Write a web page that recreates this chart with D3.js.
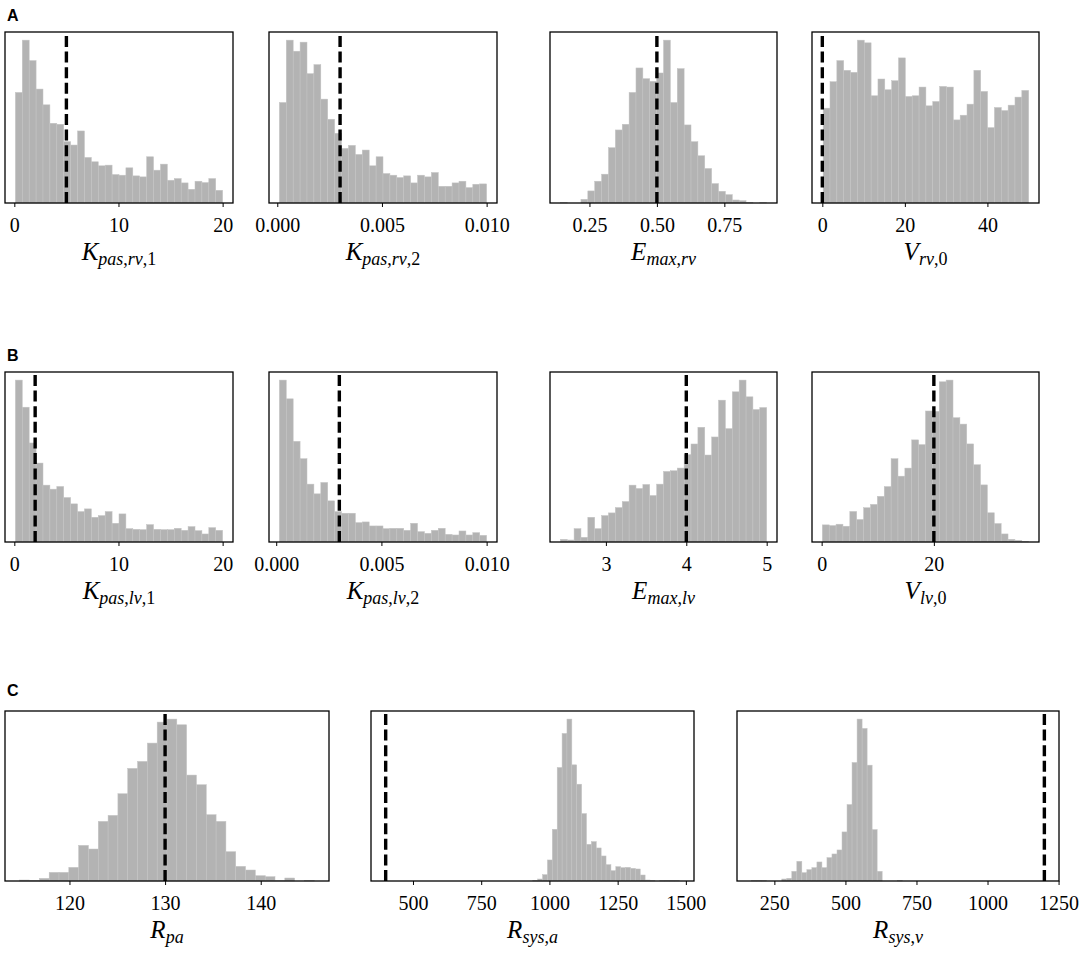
<!DOCTYPE html>
<html lang="en">
<head>
<meta charset="UTF-8">
<title>Parameter histograms</title>
<script src="https://cdnjs.cloudflare.com/ajax/libs/d3/7.8.5/d3.min.js"></script>
<style>
  body { margin: 0; background: #fff; }
  svg { display: block; }
  .tick text { font-family: "Liberation Serif", "DejaVu Serif", serif; font-size: 20px; fill: #000; }
  .tick line { stroke: #000; stroke-width: 1; }
  .panel-letter { font-family: "Liberation Sans", Arial, sans-serif; font-weight: bold; font-size: 16px; }
  .axis-label { font-family: "Liberation Serif", "DejaVu Serif", serif; font-size: 25px; }
</style>
</head>
<body>
<svg id="fig"></svg>
<script>
// panels in reading order: A1..A4, B1..B4, C1..C3
const symbols = ['K', 'K', 'E', 'V', 'K', 'K', 'E', 'V', 'R', 'R', 'R'];
const subscripts = ['pas,rv,1', 'pas,rv,2', 'max,rv', 'rv,0',
                    'pas,lv,1', 'pas,lv,2', 'max,lv', 'lv,0',
                    'pa', 'sys,a', 'sys,v'];
// first / last bin edge of each histogram (30 equal bins)
const binLo = [0.1, 0.0001, 0.142, 0.2, 0.1, 0.00015, 2.433, 0.12, 114.8, 939, 170];
const binHi = [20, 0.01, 0.907, 50, 20, 0.01, 5.0, 36.9, 145.6, 1476, 700];
// dashed reference value
const refValues = [5, 0.003, 0.5, 0, 2, 0.003, 4, 20, 130, 400, 1200];
const tickValues = [
  [0, 10, 20], [0, 0.005, 0.01], [0.25, 0.5, 0.75], [0, 20, 40],
  [0, 10, 20], [0, 0.005, 0.01], [3, 4, 5], [0, 20],
  [120, 130, 140], [500, 750, 1000, 1250, 1500], [250, 500, 750, 1000, 1250]
];
const tickFormats = ['d', '.3f', '.2f', 'd', 'd', '.3f', 'd', 'd', 'd', 'd', 'd'];

// bin counts
const countsA1 = [330, 486, 425, 340, 293, 238, 235, 183, 173, 215, 136, 123, 111, 113, 85,
                  83, 105, 81, 78, 138, 98, 116, 68, 73, 60, 41, 65, 61, 73, 38];
const countsA2 = [300, 486, 453, 480, 386, 413, 310, 250, 208, 163, 172, 145, 158, 111, 138,
                  88, 83, 76, 81, 60, 83, 78, 91, 50, 50, 60, 65, 46, 56, 57];
const countsA3 = [1, 0, 0, 11, 36, 65, 86, 165, 218, 235, 330, 403, 371, 363, 388,
                  486, 300, 401, 233, 183, 141, 103, 58, 35, 25, 9, 7, 2, 0, 1];
const countsA4 = [283, 362, 425, 396, 390, 486, 478, 320, 370, 338, 365, 433, 318, 320, 346,
                  290, 303, 348, 346, 248, 262, 295, 396, 333, 225, 285, 276, 292, 316, 336];
const countsB1 = [484, 403, 296, 236, 170, 158, 166, 133, 114, 91, 99, 74, 79, 91, 56,
                  84, 40, 38, 37, 52, 38, 37, 37, 41, 35, 46, 34, 24, 43, 35];
const countsB2 = [484, 428, 301, 249, 173, 144, 178, 123, 91, 86, 86, 58, 60, 48, 48,
                  40, 41, 41, 35, 56, 31, 26, 35, 41, 23, 21, 33, 21, 28, 20];
const countsB3 = [8, 6, 40, 14, 74, 40, 79, 87, 103, 121, 170, 160, 172, 139, 173,
                  211, 213, 221, 261, 293, 343, 260, 314, 424, 339, 449, 484, 434, 396, 402];
const countsB4 = [51, 49, 53, 47, 91, 67, 102, 112, 136, 165, 248, 196, 220, 304, 290,
                  390, 389, 477, 482, 370, 351, 292, 230, 170, 87, 55, 24, 8, 5, 2];
const countsC1 = [3, 2, 8, 26, 26, 41, 107, 96, 179, 197, 262, 338, 359, 414, 477,
                  486, 469, 318, 289, 199, 179, 88, 44, 33, 16, 13, 1, 9, 0, 1];
const countsC2 = [2, 6, 19, 63, 155, 340, 442, 485, 348, 290, 202, 110, 118, 99, 75,
                  49, 31, 43, 40, 41, 38, 36, 18, 3, 1, 0, 1, 2, 2, 2];
const countsC3 = [2, 2, 1, 0, 0, 0, 6, 8, 29, 59, 25, 34, 40, 57, 40,
                  70, 81, 93, 147, 229, 355, 485, 457, 347, 154, 29, 0, 0, 0, 1];

const allCounts = [countsA1, countsA2, countsA3, countsA4, countsB1, countsB2,
                   countsB3, countsB4, countsC1, countsC2, countsC3];

const width = 1084, height = 953;
const svg = d3.select('#fig').attr('width', width).attr('height', height);

// layout
const rows = [
  { letter: 'A', top: 32, bottom: 203, letterY: 21, panels: [0, 1, 2, 3] },
  { letter: 'B', top: 372, bottom: 542, letterY: 361, panels: [4, 5, 6, 7] },
  { letter: 'C', top: 711, bottom: 881, letterY: 696, panels: [8, 9, 10] }
];
const colsFour = [[5, 233], [269, 497], [550, 777], [812, 1039]];
const colsThree = [[5, 329], [371, 694], [737, 1059]];

rows.forEach(row => {
  svg.append('text')
    .attr('class', 'panel-letter')
    .attr('x', 7)
    .attr('y', row.letterY)
    .text(row.letter);

  const cols = row.panels.length === 4 ? colsFour : colsThree;
  row.panels.forEach((p, j) => {
    drawPanel(p, cols[j][0], cols[j][1], row.top, row.bottom);
  });
});

function drawPanel(p, left, right, top, bottom) {
  const counts = allCounts[p];
  const n = counts.length;
  const lo = binLo[p], hi = binHi[p];
  const step = (hi - lo) / n;
  const bins = counts.map((c, i) => ({ x0: lo + i * step, x1: lo + (i + 1) * step, count: c }));

  // matplotlib style 5% margins, reference line included in the limits
  const dMin = Math.min(lo, refValues[p]);
  const dMax = Math.max(hi, refValues[p]);
  const pad = 0.05 * (dMax - dMin);

  const x = d3.scaleLinear().domain([dMin - pad, dMax + pad]).range([left, right]);
  const y = d3.scaleLinear().domain([0, d3.max(counts) * 1.05]).range([bottom, top]);

  const g = svg.append('g');

  g.selectAll('rect.bar')
    .data(bins.filter(d => d.count > 0))
    .enter()
    .append('rect')
    .attr('class', 'bar')
    .attr('x', d => x(d.x0))
    .attr('width', d => x(d.x1) - x(d.x0))
    .attr('y', d => y(d.count))
    .attr('height', d => y(0) - y(d.count))
    .attr('fill', '#b3b3b3')
    .attr('stroke', '#c4c4c4')
    .attr('stroke-width', 0.5);

  g.append('line')
    .attr('x1', x(refValues[p]))
    .attr('x2', x(refValues[p]))
    .attr('y1', bottom)
    .attr('y2', top)
    .attr('stroke', '#000')
    .attr('stroke-width', 3.4)
    .attr('stroke-dasharray', '11,4.6');

  const axis = d3.axisBottom(x)
    .tickValues(tickValues[p])
    .tickFormat(d3.format(tickFormats[p]))
    .tickSizeOuter(0)
    .tickSize(4)
    .tickPadding(11);
  const ag = g.append('g')
    .attr('transform', `translate(0,${bottom})`)
    .call(axis);
  ag.select('.domain').remove();

  g.append('rect')
    .attr('x', left)
    .attr('y', top)
    .attr('width', right - left)
    .attr('height', bottom - top)
    .attr('fill', 'none')
    .attr('stroke', '#000')
    .attr('stroke-width', 1.3);

  // axis label: italic symbol with mixed subscript
  const label = g.append('text')
    .attr('class', 'axis-label')
    .attr('x', (left + right) / 2)
    .attr('y', bottom + 57)
    .attr('text-anchor', 'middle');
  label.append('tspan')
    .attr('font-style', 'italic')
    .text(symbols[p]);
  const chars = subscripts[p].split('');
  chars.forEach((ch, i) => {
    const t = label.append('tspan')
      .attr('font-size', '18px')
      .attr('font-style', /[a-z]/.test(ch) ? 'italic' : 'normal')
      .text(ch);
    if (i === 0) t.attr('dy', 5);
  });
}
</script>
</body>
</html>
